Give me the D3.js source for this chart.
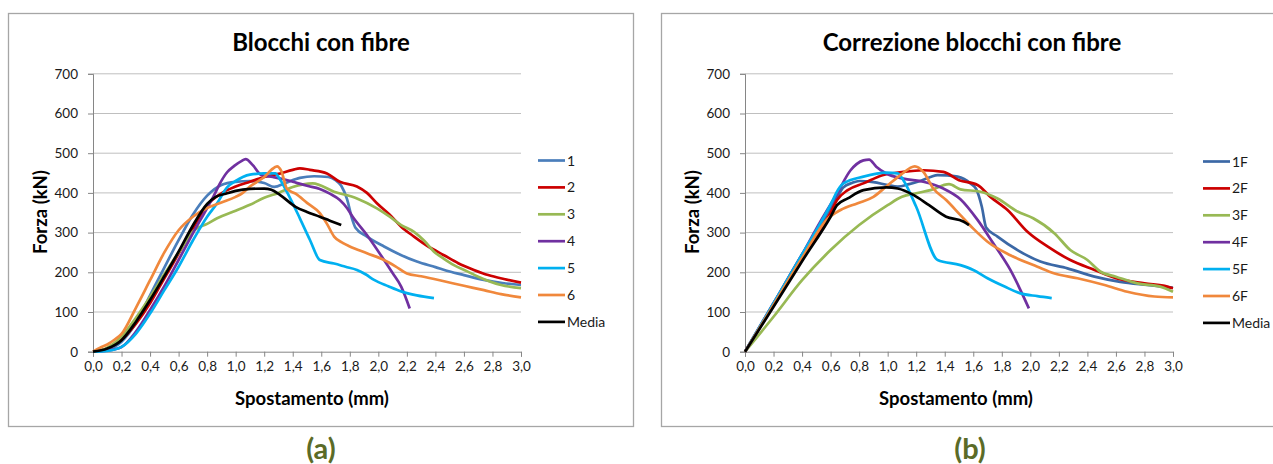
<!DOCTYPE html>
<html><head><meta charset="utf-8">
<script src="https://cdn.jsdelivr.net/npm/d3@7/dist/d3.min.js"></script>
<style>
body{margin:0;background:#fff;}
svg{display:block;font-family:Lato,"Open Sans",sans-serif;}
</style></head>
<body><svg id="c" width="1273" height="464"></svg>
<script>
// ---------- DATA ----------
const xTicks = [0,0.2,0.4,0.6,0.8,1.0,1.2,1.4,1.6,1.8,2.0,2.2,2.4,2.6,2.8,3.0];
const yTicks = [0,100,200,300,400,500,600,700];
const namesA = ["1","2","3","4","5","6","Media"];
const namesB = ["1F","2F","3F","4F","5F","6F","Media"];
const colorsA = ["#4a7ebb","#cc0000","#98b954","#7030a0","#00b0f0","#f0883c","#000000"];
const colorsB = ["#3b68a6","#cc0000","#98b954","#7030a0","#00b0f0","#f0883c","#000000"];

// Chart (a): Blocchi con fibre  [spostamento mm, forza kN]
const a1 = [[0,0],[0.1,5],[0.2,25],[0.3,72],[0.4,142],[0.5,212],[0.6,281],[0.7,345],[0.8,393],[0.9,420],[1.0,428],[1.1,430],[1.2,425],[1.27,415],[1.35,425],[1.45,438],[1.55,442],[1.65,440],[1.7,432],[1.74,418],[1.78,385],[1.82,330],[1.84,312],[1.92,290],[2.04,265],[2.15,245],[2.27,227],[2.4,213],[2.5,202],[2.6,193],[2.74,181],[2.87,173],[3.0,168]];
const a2 = [[0,0],[0.1,8],[0.2,30],[0.3,70],[0.4,122],[0.5,185],[0.6,247],[0.7,310],[0.8,369],[0.9,399],[1.0,416],[1.1,428],[1.2,440],[1.3,448],[1.4,458],[1.45,462],[1.52,458],[1.64,449],[1.73,428],[1.85,416],[1.92,400],[1.99,374],[2.08,345],[2.16,315],[2.25,290],[2.35,265],[2.46,243],[2.56,223],[2.67,206],[2.77,193],[2.88,183],[3.0,174]];
const a3 = [[0,0],[0.1,10],[0.2,38],[0.3,85],[0.4,138],[0.5,195],[0.6,250],[0.71,306],[0.8,322],[0.87,336],[1.0,355],[1.1,370],[1.2,388],[1.3,400],[1.4,415],[1.54,424],[1.69,403],[1.85,386],[1.99,361],[2.08,340],[2.16,319],[2.25,302],[2.32,280],[2.39,252],[2.46,234],[2.53,218],[2.62,203],[2.7,189],[2.86,168],[3.0,160]];
const a4 = [[0,0],[0.1,3],[0.2,12],[0.3,50],[0.4,105],[0.5,165],[0.6,231],[0.7,298],[0.8,362],[0.85,395],[0.89,424],[0.94,452],[0.99,468],[1.04,480],[1.07,485],[1.12,470],[1.18,445],[1.26,440],[1.33,435],[1.4,428],[1.5,418],[1.59,410],[1.66,398],[1.73,382],[1.78,362],[1.82,340],[1.92,294],[2.04,231],[2.1,198],[2.16,164],[2.22,109]];
const a5 = [[0,0],[0.1,2],[0.2,12],[0.3,45],[0.4,96],[0.5,155],[0.6,214],[0.7,280],[0.8,340],[0.87,374],[0.94,414],[1.0,430],[1.05,440],[1.1,446],[1.2,449],[1.28,449],[1.3,440],[1.36,402],[1.45,336],[1.52,282],[1.59,231],[1.69,222],[1.77,214],[1.85,206],[1.91,195],[1.97,181],[2.07,165],[2.16,152],[2.27,142],[2.39,135]];
const a6 = [[0,0],[0.05,10],[0.1,18],[0.15,30],[0.2,45],[0.3,110],[0.4,180],[0.5,250],[0.6,306],[0.7,340],[0.8,362],[0.9,376],[1.0,390],[1.05,400],[1.1,416],[1.15,428],[1.2,440],[1.25,458],[1.29,467],[1.32,455],[1.36,410],[1.42,398],[1.5,375],[1.59,349],[1.64,322],[1.69,290],[1.75,274],[1.8,265],[1.92,248],[2.04,231],[2.12,215],[2.2,197],[2.3,190],[2.43,180],[2.6,166],[2.74,155],[2.86,145],[3.0,137]];
const aM = [[0,0],[0.1,8],[0.2,29],[0.3,75],[0.4,130],[0.5,190],[0.6,252],[0.7,318],[0.8,372],[0.86,390],[0.93,398],[1.0,405],[1.1,410],[1.2,411],[1.25,408],[1.31,395],[1.42,365],[1.5,352],[1.59,340],[1.66,330],[1.74,319]];

// Chart (b): Correzione blocchi con fibre
const b1 = [[0,0],[0.2,122],[0.4,245],[0.5,302],[0.6,362],[0.65,392],[0.69,414],[0.75,425],[0.8,430],[0.9,427],[1.0,420],[1.07,416],[1.15,422],[1.21,428],[1.3,440],[1.35,445],[1.42,444],[1.49,441],[1.58,424],[1.62,410],[1.66,365],[1.69,313],[1.77,290],[1.91,256],[2.07,227],[2.26,210],[2.45,189],[2.63,176],[2.82,168],[3.0,161]];
const b2 = [[0,0],[0.2,116],[0.4,234],[0.5,292],[0.6,350],[0.645,382],[0.72,407],[0.83,424],[0.97,445],[1.11,453],[1.25,457],[1.39,453],[1.5,432],[1.63,420],[1.72,390],[1.84,357],[1.98,302],[2.12,265],[2.28,231],[2.45,206],[2.6,185],[2.8,172],[2.96,164],[3.0,160]];
const b3 = [[0,0],[0.2,88],[0.4,180],[0.6,256],[0.8,319],[1.0,369],[1.1,390],[1.2,399],[1.3,407],[1.43,422],[1.51,409],[1.65,403],[1.77,386],[1.91,353],[2.02,336],[2.17,298],[2.28,256],[2.4,231],[2.49,202],[2.6,189],[2.75,172],[2.91,164],[3.0,151]];
const b4 = [[0,0],[0.2,122],[0.4,245],[0.527,327],[0.645,398],[0.74,457],[0.83,482],[0.87,484],[0.92,466],[0.99,449],[1.11,436],[1.25,428],[1.39,411],[1.51,384],[1.63,332],[1.74,273],[1.86,206],[1.99,109]];
const b5 = [[0,0],[0.2,122],[0.4,245],[0.62,385],[0.64,400],[0.69,424],[0.83,441],[0.99,451],[1.07,449],[1.11,432],[1.2,365],[1.35,231],[1.51,218],[1.6,206],[1.7,185],[1.82,164],[1.93,147],[2.05,140],[2.15,135]];
const b6 = [[0,0],[0.2,118],[0.4,236],[0.58,335],[0.67,357],[0.79,374],[0.9,390],[0.99,416],[1.09,445],[1.19,467],[1.25,453],[1.32,411],[1.41,382],[1.51,344],[1.6,310],[1.7,277],[1.86,243],[2.05,214],[2.17,197],[2.33,185],[2.52,168],[2.68,151],[2.87,139],[3.0,137]];
const bM = [[0,0],[0.2,113],[0.4,228],[0.6,340],[0.645,369],[0.72,386],[0.83,407],[0.99,414],[1.07,411],[1.18,395],[1.29,369],[1.41,340],[1.53,328],[1.57,319]];

const seriesA = [a1,a2,a3,a4,a5,a6,aM];
const seriesB = [b1,b2,b3,b4,b5,b6,bM];

// ---------- DRAW ----------
const svg = d3.select("#c");
const fmtX = d => d.toFixed(1).replace(".", ",");

function drawChart(o){
  const g = svg.append("g");
  g.append("rect").attr("x",o.fx+0.5).attr("y",13.5).attr("width",o.fw).attr("height",413)
    .attr("fill","#fff").attr("stroke","#a6a6a6").attr("stroke-width",1.3);
  const x = d3.scaleLinear().domain([0,3]).range([o.x0,o.x1]);
  const y = d3.scaleLinear().domain([0,700]).range([351.7,73.8]);
  g.append("g").selectAll("line").data(yTicks.filter(v=>v>0)).join("line")
    .attr("x1",o.x0).attr("x2",o.x1).attr("y1",d=>y(d)).attr("y2",d=>y(d))
    .attr("stroke","#bfbfbf").attr("stroke-width",1);
  const ya = g.append("g").attr("transform",`translate(${o.x0},0)`)
    .call(d3.axisLeft(y).tickValues(yTicks).tickSize(5).tickPadding(10).tickFormat(d3.format("d")));
  ya.select(".domain").attr("stroke","#868686");
  ya.selectAll(".tick line").attr("stroke","#868686");
  ya.selectAll("text").attr("font-size",13.5).attr("fill","#1a1a1a").attr("font-family","Lato");
  const xa = g.append("g").attr("transform",`translate(0,351.7)`)
    .call(d3.axisBottom(x).tickValues(xTicks).tickSize(5).tickPadding(5).tickFormat(fmtX));
  xa.select(".domain").attr("stroke","#868686");
  xa.selectAll(".tick line").attr("stroke","#868686");
  xa.selectAll("text").attr("font-size",13.5).attr("fill","#1a1a1a").attr("font-family","Lato");
  const line = d3.line().x(d=>x(d[0])).y(d=>y(d[1])).curve(d3.curveMonotoneX);
  o.series.forEach((s,i)=>{
    g.append("path").datum(s).attr("d",line).attr("fill","none")
      .attr("stroke",o.colors[i]).attr("stroke-width",2.7).attr("stroke-linejoin","round");
  });
  g.append("text").attr("x",o.tx).attr("y",51).attr("text-anchor","middle")
    .attr("font-size",24).attr("font-weight","bold").attr("fill","#000").text(o.title);
  g.append("text").attr("x",o.xlx).attr("y",405).attr("text-anchor","middle")
    .attr("font-size",18.5).attr("font-weight","bold").attr("fill","#000").text("Spostamento (mm)");
  g.append("text").attr("transform",`translate(${o.ylx},212) rotate(-90)`).attr("text-anchor","middle")
    .attr("font-size",18.5).attr("font-weight","bold").attr("fill","#000").text("Forza (kN)");
  const lg = g.append("g");
  o.names.forEach((n,i)=>{
    const yy = o.ly + i*26.9;
    lg.append("line").attr("x1",o.lx).attr("x2",o.lx+27).attr("y1",yy).attr("y2",yy)
      .attr("stroke",o.colors[i]).attr("stroke-width",2.7);
    lg.append("text").attr("x",o.lx+29).attr("y",yy+5).attr("font-size",14).attr("fill","#1a1a1a").text(n);
  });
  g.append("text").attr("x",o.cx).attr("y",459).attr("text-anchor","middle")
    .attr("font-size",29).attr("font-weight","bold").attr("fill","#5b6b27").text(o.caption);
}

drawChart({fx:8,fw:625,x0:93,x1:521,series:seriesA,colors:colorsA,names:namesA,
  title:"Blocchi con fibre",tx:321,xlx:312,ylx:47,lx:538,ly:160.5,cx:321,caption:"(a)"});
drawChart({fx:661,fw:640,x0:745,x1:1173,series:seriesB,colors:colorsB,names:namesB,
  title:"Correzione blocchi con fibre",tx:972,xlx:956,ylx:699,lx:1203,ly:161.5,cx:970,caption:"(b)"});
</script></body></html>
